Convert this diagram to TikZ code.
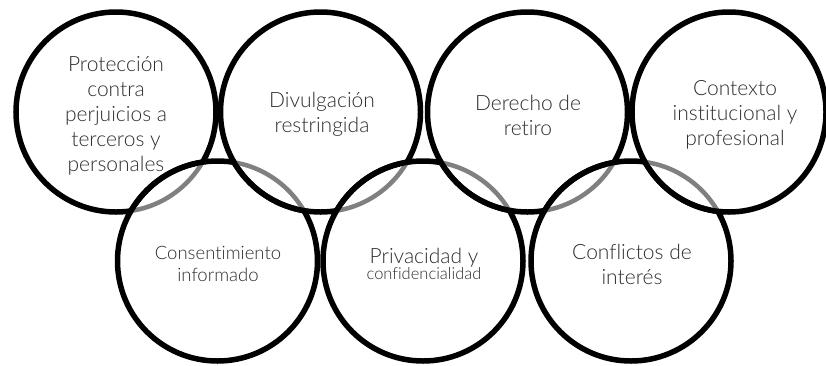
\documentclass[tikz,border=0pt]{standalone}
\usepackage{fontspec}
\setmainfont{Lato}[UprightFont=* Light,Ligatures=NoCommon]
\definecolor{ringgrey}{RGB}{128,128,128}
\definecolor{txt}{RGB}{45,45,45}
\begin{document}
\begin{tikzpicture}[x=1pt,y=-1pt,
  ring/.style={draw=black,line width=5.5pt},
  ringerase/.style={draw=white,line width=7pt},
  ringback/.style={draw=ringgrey,line width=4.5pt},
  lbl/.style={align=center,text=txt,inner sep=0pt,font=\fontsize{21}{25}\selectfont},
  lblsmall/.style={align=center,text=txt,inner sep=0pt,font=\fontsize{18.5}{22}\selectfont}]
\useasboundingbox (0,0) rectangle (826,365);
\def\R{100}
\coordinate (T1) at (116,112);
\coordinate (T2) at (320.5,112);
\coordinate (T3) at (527.5,112);
\coordinate (T4) at (729,112);
\coordinate (B1) at (217.5,261);
\coordinate (B2) at (423,261);
\coordinate (B3) at (631,261);
% all rings in black
\foreach \c in {T1,T2,T3,B1,B2,B3} {\draw[ring] (\c) circle[radius=\R];}
\draw[ring] (T4) ellipse[x radius=97,y radius=\R];
% grey (behind) arcs and black arcs passing over them
\foreach \a/\b in {T1/B1,T2/B2,T3/B3,B1/T2,B2/T3} {
  \begin{scope}
    \clip (\b) circle[radius=\R];
    \draw[ringerase] (\a) circle[radius=\R];
    \draw[ringback] (\a) circle[radius=\R];
  \end{scope}
  \begin{scope}
    \clip (\a) circle[radius=\R+4];
    \draw[ring] (\b) circle[radius=\R];
  \end{scope}
}
\begin{scope}
  \clip (T4) ellipse[x radius=97,y radius=\R];
  \draw[ringerase] (B3) circle[radius=\R];
  \draw[ringback] (B3) circle[radius=\R];
\end{scope}
\begin{scope}
  \clip (B3) circle[radius=\R+4];
  \draw[ring] (T4) ellipse[x radius=97,y radius=\R];
\end{scope}
% labels
\node[lbl] (l1) at (116,116) {Protección\\contra\\perjuicios a\\terceros y\\personales};
\node[lbl] (l2) at (322,114) {Divulgación\\restringida};
\node[lbl] (l3) at (528,115) {Derecho de\\retiro};
\node[lbl] (l4) at (735,115) {Contexto\\institucional y\\profesional};
\node[lblsmall] (l5) at (218,264) {Consentimiento\\informado};
\node[align=center,text=txt,inner sep=0pt] (l6) at (424,264) {{\fontsize{21}{22}\selectfont Privacidad y}\\[0pt]{\fontsize{16.5}{20}\selectfont confidencialidad}};
\node[lbl] (l7) at (632,264) {Conflictos de\\interés};
\end{tikzpicture}
\end{document}
